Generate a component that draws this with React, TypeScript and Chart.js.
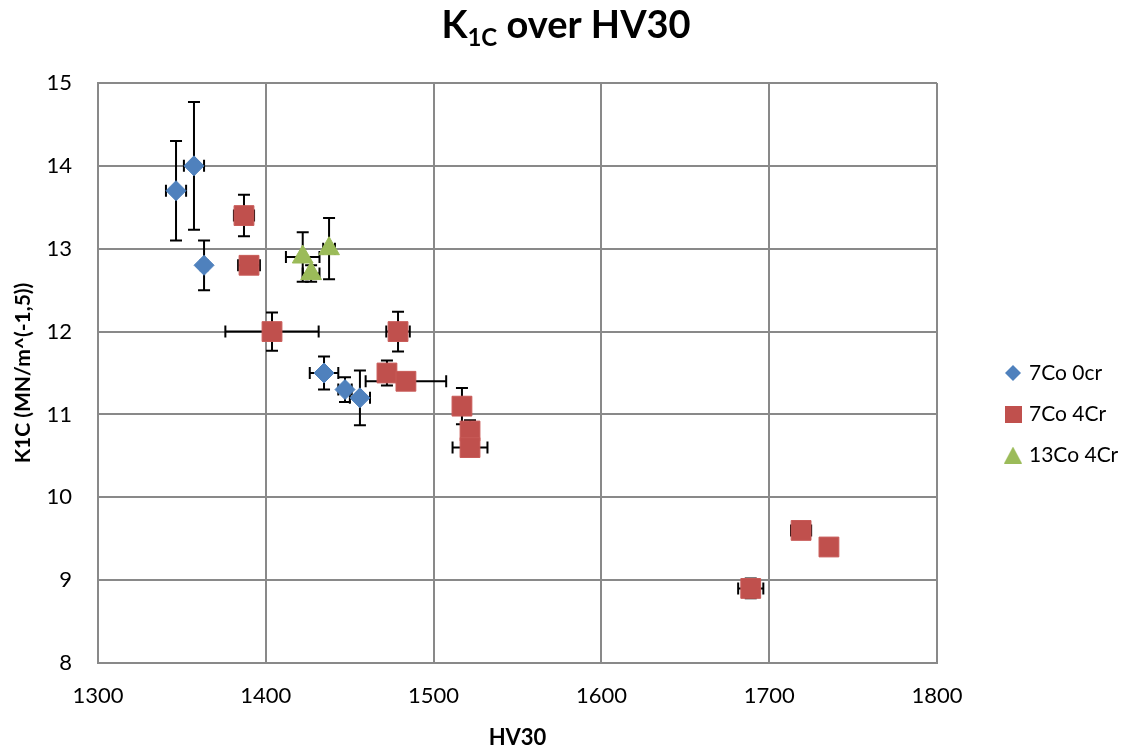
import React, { useEffect, useRef } from 'react';
import { Chart, registerables } from 'chart.js';

Chart.register(...registerables);

// ---- data ----
const seriesNames = ['7Co 0cr', '7Co 4Cr', '13Co 4Cr'];
const seriesColors = ['#4F81BD', '#C0504D', '#9BBB59'];
const xTickRange = [1300, 1800];
const xTickStep = 100;
const yTickRange = [8, 15];
const yTickStep = 1;

const co7cr0X = [1346.5, 1357.2, 1363.2, 1434.7, 1447.2, 1456.1];
const co7cr0Y = [13.7, 14.0, 12.8, 11.5, 11.3, 11.2];
const co7cr0XErr = [6, 6, 2, 8.5, 4, 6];
const co7cr0YErr = [0.6, 0.77, 0.3, 0.2, 0.15, 0.33];

const co7cr4X = [1387, 1390, 1403.7, 1478.8, 1472.2, 1483.5, 1516.9, 1521.7, 1521.7, 1689, 1719, 1735.6];
const co7cr4Y = [13.4, 12.8, 12.0, 12.0, 11.5, 11.4, 11.1, 10.8, 10.6, 8.9, 9.6, 9.4];
const co7cr4XErr = [6, 6.5, 27.8, 7, 3, 24, 3, 3, 10.4, 7.5, 6, 0];
const co7cr4YErr = [0.25, 0.05, 0.23, 0.24, 0.15, 0.05, 0.22, 0.13, 0.05, 0.12, 0.05, 0];

const co13cr4X = [1422, 1427, 1437.7];
const co13cr4Y = [12.9, 12.7, 13.0];
const co13cr4XErr = [10, 5, 3.5];
const co13cr4YErr = [0.3, 0.1, 0.37];

const FONT = 'Lato';

function toPoints(xs: number[], ys: number[], xe: number[], ye: number[]) {
  return xs.map((x, i) => ({ x, y: ys[i], xErr: xe[i], yErr: ye[i] }));
}

function makeMarker(shape: string, color: string): HTMLCanvasElement {
  const c = document.createElement('canvas');
  const ctx = c.getContext('2d')!;
  if (shape === 'diamond') {
    c.width = 16; c.height = 16;
    ctx.fillStyle = color;
    ctx.beginPath();
    ctx.moveTo(8, 0); ctx.lineTo(16, 8); ctx.lineTo(8, 16); ctx.lineTo(0, 8);
    ctx.closePath(); ctx.fill();
  } else if (shape === 'square') {
    c.width = 17; c.height = 17;
    ctx.fillStyle = color;
    ctx.fillRect(0, 0, 17, 17);
  } else {
    c.width = 18; c.height = 17;
    ctx.fillStyle = color;
    ctx.beginPath();
    ctx.moveTo(9, 0); ctx.lineTo(18, 17); ctx.lineTo(0, 17);
    ctx.closePath(); ctx.fill();
  }
  return c;
}

const errorBarsPlugin = {
  id: 'errorBars',
  beforeDatasetsDraw(chart: any) {
    const { ctx } = chart;
    const xs = chart.scales.x;
    const ys = chart.scales.y;
    ctx.save();
    ctx.strokeStyle = '#000000';
    ctx.lineWidth = 2;
    const cap = 6;
    chart.data.datasets.forEach((ds: any) => {
      ds.data.forEach((p: any) => {
        const cx = xs.getPixelForValue(p.x);
        const cy = ys.getPixelForValue(p.y);
        if (p.yErr > 0) {
          const t = ys.getPixelForValue(p.y + p.yErr);
          const b = ys.getPixelForValue(p.y - p.yErr);
          ctx.beginPath();
          ctx.moveTo(cx, t); ctx.lineTo(cx, b);
          ctx.moveTo(cx - cap, t); ctx.lineTo(cx + cap, t);
          ctx.moveTo(cx - cap, b); ctx.lineTo(cx + cap, b);
          ctx.stroke();
        }
        if (p.xErr > 0) {
          const l = xs.getPixelForValue(p.x - p.xErr);
          const r = xs.getPixelForValue(p.x + p.xErr);
          ctx.beginPath();
          ctx.moveTo(l, cy); ctx.lineTo(r, cy);
          ctx.moveTo(l, cy - cap); ctx.lineTo(l, cy + cap);
          ctx.moveTo(r, cy - cap); ctx.lineTo(r, cy + cap);
          ctx.stroke();
        }
      });
    });
    ctx.restore();
  },
};

const titlePlugin = {
  id: 'subTitle',
  afterDraw(chart: any) {
    const { ctx } = chart;
    ctx.save();
    ctx.fillStyle = '#000000';
    ctx.textBaseline = 'alphabetic';
    ctx.textAlign = 'left';
    const big = `bold 38px ${FONT}`;
    const small = `bold 24px ${FONT}`;
    const parts = [
      { t: 'K', f: big, dy: 0 },
      { t: '1C', f: small, dy: 8 },
      { t: ' over HV30', f: big, dy: 0 },
    ];
    let total = 0;
    const widths = parts.map((p) => { ctx.font = p.f; const w = ctx.measureText(p.t).width; total += w; return w; });
    let x = chart.width / 2 - total / 2;
    const base = 38;
    parts.forEach((p, i) => {
      ctx.font = p.f;
      ctx.fillText(p.t, x, base + p.dy);
      x += widths[i];
    });
    ctx.restore();
  },
};

const legendPlacePlugin = {
  id: 'legendPlace',
  afterLayout(chart: any) {
    const lg = chart.legend;
    if (!lg) return;
    const h = lg.bottom - lg.top;
    lg.left = 987.5;
    lg.right = lg.left + lg.width;
    lg.top = 124;
    lg.bottom = lg.top + h;
  },
};

export default function App() {
  const ref = useRef<HTMLCanvasElement>(null);

  useEffect(() => {
    const canvas = ref.current!;
    const shapes = ['diamond', 'square', 'triangle'];
    const legendImgs = shapes.map((s, i) => makeMarker(s, seriesColors[i]));

    const chart = new Chart(canvas, {
      type: 'scatter',
      data: {
        datasets: [
          {
            label: seriesNames[0],
            data: toPoints(co7cr0X, co7cr0Y, co7cr0XErr, co7cr0YErr),
            pointStyle: 'rectRot',
            pointRadius: 10,
            pointHoverRadius: 10,
            backgroundColor: seriesColors[0],
            borderColor: seriesColors[0],
            borderWidth: 1,
            order: 3,
          },
          {
            label: seriesNames[1],
            data: toPoints(co7cr4X, co7cr4Y, co7cr4XErr, co7cr4YErr),
            pointStyle: 'rect',
            pointRadius: 14,
            pointHoverRadius: 14,
            backgroundColor: seriesColors[1],
            borderColor: '#C85A57',
            borderWidth: 1,
            order: 2,
          },
          {
            label: seriesNames[2],
            data: toPoints(co13cr4X, co13cr4Y, co13cr4XErr, co13cr4YErr),
            pointStyle: 'triangle',
            pointRadius: 12,
            pointHoverRadius: 12,
            backgroundColor: seriesColors[2],
            borderColor: seriesColors[2],
            borderWidth: 1,
            order: 1,
          },
        ] as any,
      },
      options: {
        animation: false,
        responsive: true,
        maintainAspectRatio: false,
        layout: { padding: { top: 83, left: 0, right: 195, bottom: 0 } },
        plugins: {
          title: { display: false },
          tooltip: { enabled: false },
          legend: {
            display: true,
            position: 'chartArea' as any,
            align: 'center',
            labels: {
              usePointStyle: true,
              boxWidth: 11,
              boxHeight: 11,
              padding: 20,
              color: '#000000',
              font: { family: FONT, size: 21 },
              generateLabels: (ch: any) =>
                ch.data.datasets.map((ds: any, i: number) => ({
                  text: ds.label,
                  fillStyle: seriesColors[i],
                  strokeStyle: seriesColors[i],
                  lineWidth: 0,
                  pointStyle: legendImgs[i],
                  hidden: false,
                  datasetIndex: i,
                  fontColor: '#000000',
                })),
            },
          },
        },
        scales: {
          x: {
            type: 'linear',
            min: xTickRange[0],
            max: xTickRange[1],
            afterFit: (s: any) => { s.height = 88; },
            ticks: {
              stepSize: xTickStep,
              padding: 20,
              color: '#000000',
              font: { family: FONT, size: 22 },
              callback: (v: any) => String(v),
            },
            grid: { color: '#898989', lineWidth: 2, drawTicks: false },
            border: { color: '#898989', width: 2 },
            title: {
              display: true,
              text: 'HV30',
              color: '#000000',
              font: { family: FONT, size: 22, weight: 'bold' },
              padding: { top: 0, bottom: 0 },
            },
          },
          y: {
            type: 'linear',
            min: yTickRange[0],
            max: yTickRange[1],
            afterFit: (s: any) => { s.width = 98; },
            ticks: {
              stepSize: yTickStep,
              padding: 26,
              color: '#000000',
              font: { family: FONT, size: 22 },
              callback: (v: any) => String(v),
            },
            grid: { color: '#898989', lineWidth: 2, drawTicks: false },
            border: { color: '#898989', width: 2 },
            title: {
              display: true,
              text: 'K1C (MN/m^(-1,5))',
              color: '#000000',
              font: { family: FONT, size: 21, weight: 'bold' },
              padding: { top: 11, bottom: 0 },
            },
          },
        },
      },
      plugins: [errorBarsPlugin, titlePlugin, legendPlacePlugin],
    });

    return () => chart.destroy();
  }, []);

  return (
    <div style={{ position: 'fixed', left: 0, top: 0, width: 1132, height: 751, background: '#ffffff' }}>
      <canvas ref={ref} />
    </div>
  );
}
